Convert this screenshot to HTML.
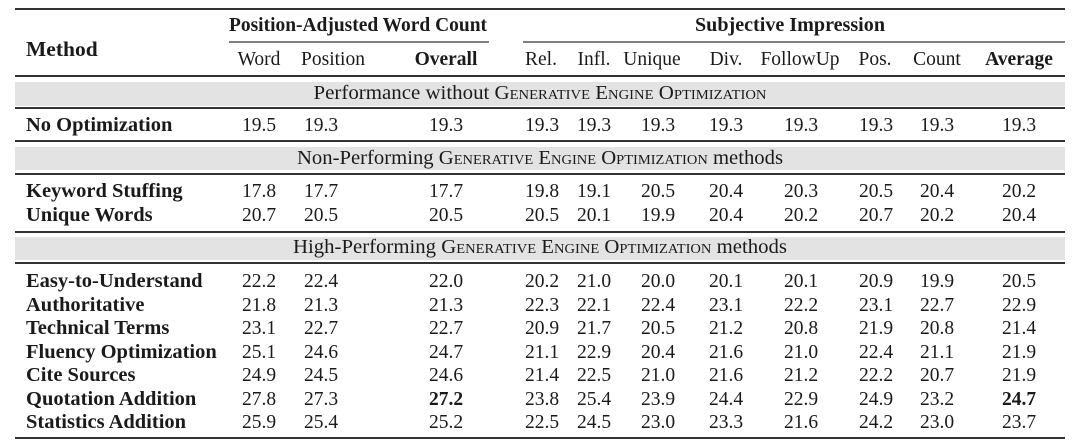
<!DOCTYPE html>
<html><head><meta charset="utf-8"><style>
html,body{margin:0;padding:0;background:#fff;}
svg{display:block;}
text{font-family:"Liberation Serif",serif;font-size:19.5px;fill:#1a1a1a;}
.b{font-weight:bold;}
.sc{font-variant:small-caps;}
.band{font-size:20px;}
.lbl{font-size:20.5px;font-weight:bold;}
</style></head><body>
<svg width="1080" height="442" viewBox="0 0 1080 442" xmlns="http://www.w3.org/2000/svg">
<g fill="#e3e3e3">
<rect x="15" y="82" width="1050" height="24"/>
<rect x="15" y="147" width="1050" height="23"/>
<rect x="15" y="237" width="1050" height="23"/>
</g>
<g stroke="#333" stroke-width="2">
<line x1="15" y1="9" x2="1065" y2="9"/>
<line x1="229" y1="42" x2="489" y2="42" stroke-width="1.3"/>
<line x1="523" y1="42" x2="1065" y2="42" stroke-width="1.3"/>
<line x1="15" y1="76" x2="1065" y2="76"/>
<line x1="15" y1="108" x2="1065" y2="108"/>
<line x1="15" y1="141" x2="1065" y2="141"/>
<line x1="15" y1="174" x2="1065" y2="174"/>
<line x1="15" y1="232" x2="1065" y2="232"/>
<line x1="15" y1="263" x2="1065" y2="263"/>
<line x1="15" y1="438" x2="1065" y2="438"/>
</g>
<text class="b" x="26" y="56" style="font-size:21.5px">Method</text>
<g text-anchor="middle">
<text class="b" x="358" y="31" textLength="258" lengthAdjust="spacingAndGlyphs">Position-Adjusted Word Count</text>
<text class="b" x="790" y="31" textLength="190" lengthAdjust="spacingAndGlyphs">Subjective Impression</text>
<text x="259" y="65">Word</text>
<text x="333" y="65">Position</text>
<text class="b" x="446" y="65">Overall</text>
<text x="541" y="65">Rel.</text>
<text x="594" y="65">Infl.</text>
<text x="652" y="65">Unique</text>
<text x="726" y="65">Div.</text>
<text x="800" y="65">FollowUp</text>
<text x="875" y="65">Pos.</text>
<text x="937" y="65">Count</text>
<text class="b" x="1019" y="65">Average</text>
<text class="band" x="540" y="99" textLength="453" lengthAdjust="spacingAndGlyphs">Performance without <tspan class="sc">Generative Engine Optimization</tspan></text>
<text class="band" x="540" y="164" textLength="486" lengthAdjust="spacingAndGlyphs">Non-Performing <tspan class="sc">Generative Engine Optimization</tspan> methods</text>
<text class="band" x="540" y="253" textLength="494" lengthAdjust="spacingAndGlyphs">High-Performing <tspan class="sc">Generative Engine Optimization</tspan> methods</text>
</g>
<g>
<text class="lbl" x="26" y="131">No Optimization</text>
<text class="lbl" x="26" y="197">Keyword Stuffing</text>
<text class="lbl" x="26" y="221">Unique Words</text>
<text class="lbl" x="26" y="287">Easy-to-Understand</text>
<text class="lbl" x="26" y="311">Authoritative</text>
<text class="lbl" x="26" y="334">Technical Terms</text>
<text class="lbl" x="26" y="358">Fluency Optimization</text>
<text class="lbl" x="26" y="381">Cite Sources</text>
<text class="lbl" x="26" y="405">Quotation Addition</text>
<text class="lbl" x="26" y="428">Statistics Addition</text>
</g>
<g text-anchor="middle">
<g transform="translate(0,131)"><text x="259">19.5</text><text x="321">19.3</text><text x="446">19.3</text><text x="542">19.3</text><text x="594">19.3</text><text x="658">19.3</text><text x="726">19.3</text><text x="801">19.3</text><text x="876">19.3</text><text x="937">19.3</text><text x="1019">19.3</text></g>
<g transform="translate(0,197)"><text x="259">17.8</text><text x="321">17.7</text><text x="446">17.7</text><text x="542">19.8</text><text x="594">19.1</text><text x="658">20.5</text><text x="726">20.4</text><text x="801">20.3</text><text x="876">20.5</text><text x="937">20.4</text><text x="1019">20.2</text></g>
<g transform="translate(0,221)"><text x="259">20.7</text><text x="321">20.5</text><text x="446">20.5</text><text x="542">20.5</text><text x="594">20.1</text><text x="658">19.9</text><text x="726">20.4</text><text x="801">20.2</text><text x="876">20.7</text><text x="937">20.2</text><text x="1019">20.4</text></g>
<g transform="translate(0,287)"><text x="259">22.2</text><text x="321">22.4</text><text x="446">22.0</text><text x="542">20.2</text><text x="594">21.0</text><text x="658">20.0</text><text x="726">20.1</text><text x="801">20.1</text><text x="876">20.9</text><text x="937">19.9</text><text x="1019">20.5</text></g>
<g transform="translate(0,311)"><text x="259">21.8</text><text x="321">21.3</text><text x="446">21.3</text><text x="542">22.3</text><text x="594">22.1</text><text x="658">22.4</text><text x="726">23.1</text><text x="801">22.2</text><text x="876">23.1</text><text x="937">22.7</text><text x="1019">22.9</text></g>
<g transform="translate(0,334)"><text x="259">23.1</text><text x="321">22.7</text><text x="446">22.7</text><text x="542">20.9</text><text x="594">21.7</text><text x="658">20.5</text><text x="726">21.2</text><text x="801">20.8</text><text x="876">21.9</text><text x="937">20.8</text><text x="1019">21.4</text></g>
<g transform="translate(0,358)"><text x="259">25.1</text><text x="321">24.6</text><text x="446">24.7</text><text x="542">21.1</text><text x="594">22.9</text><text x="658">20.4</text><text x="726">21.6</text><text x="801">21.0</text><text x="876">22.4</text><text x="937">21.1</text><text x="1019">21.9</text></g>
<g transform="translate(0,381)"><text x="259">24.9</text><text x="321">24.5</text><text x="446">24.6</text><text x="542">21.4</text><text x="594">22.5</text><text x="658">21.0</text><text x="726">21.6</text><text x="801">21.2</text><text x="876">22.2</text><text x="937">20.7</text><text x="1019">21.9</text></g>
<g transform="translate(0,405)"><text x="259">27.8</text><text x="321">27.3</text><text class="b" x="446">27.2</text><text x="542">23.8</text><text x="594">25.4</text><text x="658">23.9</text><text x="726">24.4</text><text x="801">22.9</text><text x="876">24.9</text><text x="937">23.2</text><text class="b" x="1019">24.7</text></g>
<g transform="translate(0,428)"><text x="259">25.9</text><text x="321">25.4</text><text x="446">25.2</text><text x="542">22.5</text><text x="594">24.5</text><text x="658">23.0</text><text x="726">23.3</text><text x="801">21.6</text><text x="876">24.2</text><text x="937">23.0</text><text x="1019">23.7</text></g>
</g>
</svg>
</body></html>
